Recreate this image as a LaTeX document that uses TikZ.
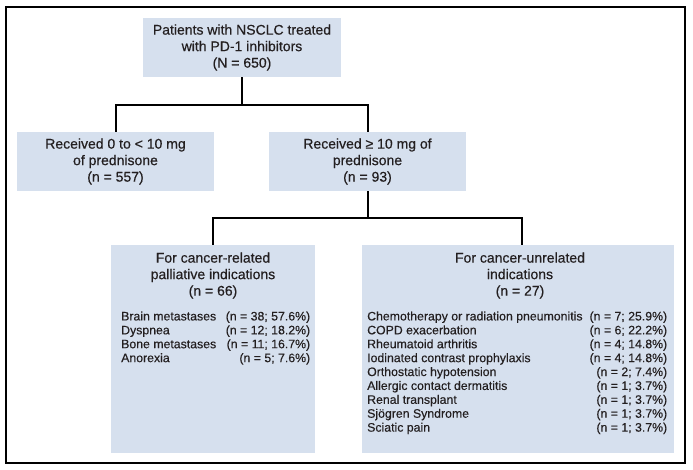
\documentclass[tikz,border=0pt]{standalone}
\usepackage{fontspec}
\setmainfont{Liberation Sans}
\newfontfamily\ttlfont{Liberation Sans}[FakeBold=0.45]
\newfontfamily\lstfont{Liberation Sans}[FakeBold=0.3]
\definecolor{boxfill}{RGB}{214,224,238}
\definecolor{ink}{RGB}{35,31,32}
\begin{document}
\begin{tikzpicture}[x=1bp,y=-1bp,
  box/.style={fill=boxfill, draw=none, inner sep=0pt},
  ttl/.style={align=center, font=\ttlfont\fontsize{14bp}{16.5bp}\selectfont, text=ink},
  lst/.style={font=\lstfont\fontsize{12.3bp}{13.9bp}\selectfont, text=ink, inner sep=0pt, anchor=north west},
  conn/.style={line width=2bp, draw=black}]
\useasboundingbox (0,0) rectangle (693,470);
\draw[line width=1.2bp] (6,7) rectangle (685,463);
% boxes
\node[box, ttl, minimum width=198bp, minimum height=59bp] (top) at (242,47.5)
  {Patients with NSCLC treated\\with PD-1 inhibitors\\(N = 650)};
\node[box, ttl, minimum width=197bp, minimum height=59bp] (ml) at (115.5,161.5)
  {Received 0 to < 10 mg\\of prednisone\\(n = 557)};
\node[box, ttl, minimum width=197bp, minimum height=59bp] (mr) at (367.5,161.5)
  {Received ≥ 10 mg of\\prednisone\\(n = 93)};
\node[box, minimum width=204bp, minimum height=208bp] (bl) at (213,349) {};
\node[box, minimum width=312bp, minimum height=208bp] (br) at (518,349) {};
% titles of lower boxes
\node[ttl, inner sep=0pt] (blt) at (213,275.5)
  {For cancer-related\\palliative indications\\(n = 66)};
\node[ttl, inner sep=0pt] (brt) at (520,275.5)
  {For cancer-unrelated\\indications\\(n = 27)};
% lists
\node[lst] (bll) at (121,310.5) {\renewcommand{\arraystretch}{1}%
  \begin{tabular*}{189bp}{@{}l@{\extracolsep{\fill}}r@{}}
  Brain metastases & (n = 38; 57.6\%)\\
  Dyspnea & (n = 12; 18.2\%)\\
  Bone metastases & (n = 11; 16.7\%)\\
  Anorexia & (n = 5; 7.6\%)
  \end{tabular*}};
\node[lst] (brl) at (367,310.5) {\renewcommand{\arraystretch}{1}%
  \begin{tabular*}{300bp}{@{}l@{\extracolsep{\fill}}r@{}}
  Chemotherapy or radiation pneumonitis & (n = 7; 25.9\%)\\
  COPD exacerbation & (n = 6; 22.2\%)\\
  Rheumatoid arthritis & (n = 4; 14.8\%)\\
  Iodinated contrast prophylaxis & (n = 4; 14.8\%)\\
  Orthostatic hypotension & (n = 2; 7.4\%)\\
  Allergic contact dermatitis & (n = 1; 3.7\%)\\
  Renal transplant & (n = 1; 3.7\%)\\
  Sjögren Syndrome & (n = 1; 3.7\%)\\
  Sciatic pain & (n = 1; 3.7\%)
  \end{tabular*}};
% connectors
\coordinate (j1) at (242,105);
\coordinate (j2) at (367.5,218);
\coordinate (brin) at ([xshift=4bp]br.north);
\draw[conn] (top.south) -- (j1) -| (ml.north);
\draw[conn] (j1) -| (mr.north);
\draw[conn] (mr.south) -- (j2) -| (bl.north);
\draw[conn] (j2) -| (brin);
\end{tikzpicture}
\end{document}
